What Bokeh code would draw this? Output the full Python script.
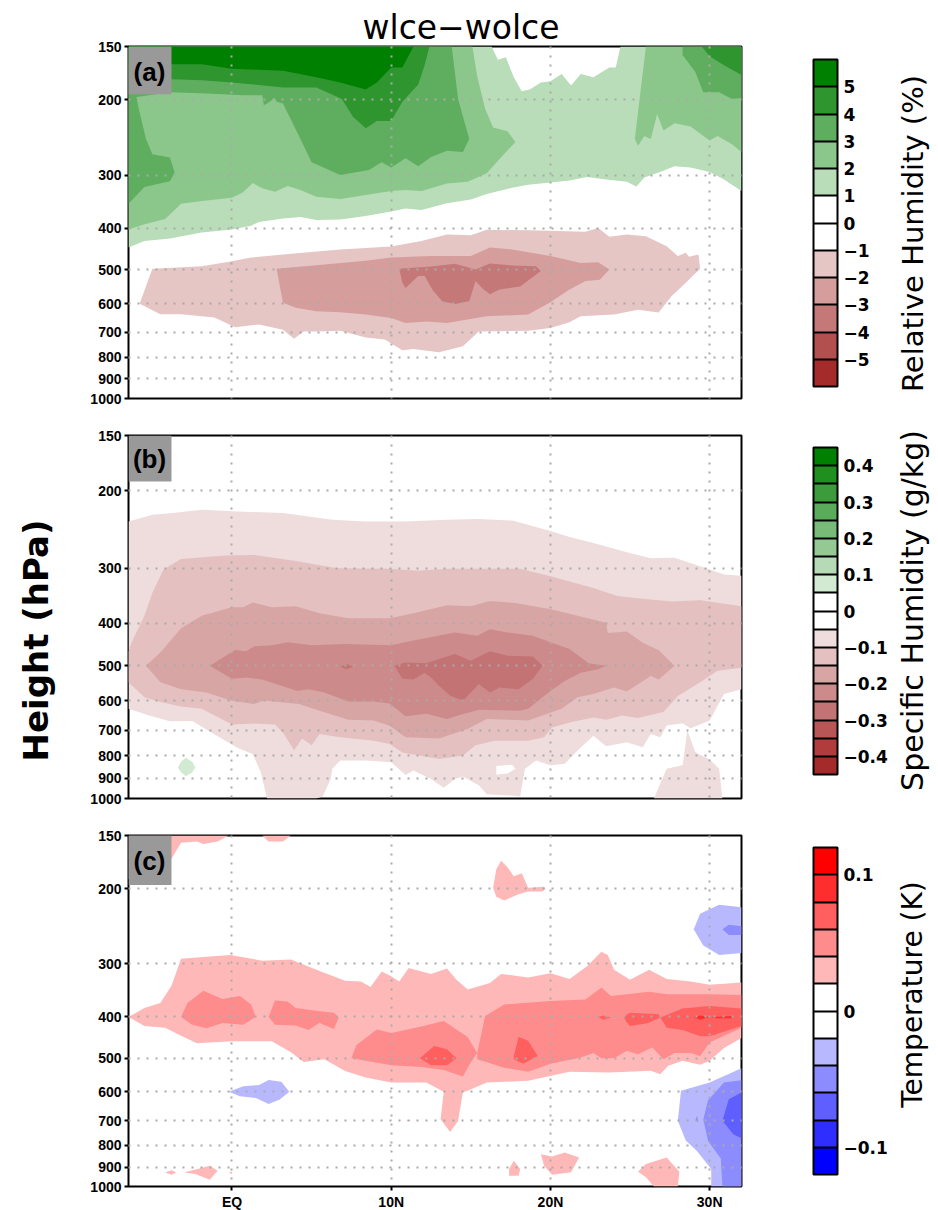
import math
from bokeh.core.properties import value
from bokeh.embed import file_html
from bokeh.layouts import column, row
from bokeh.models import BoxAnnotation, ColorBar, FixedTicker, Label, LinearColorMapper, Range1d
from bokeh.plotting import figure
from bokeh.resources import INLINE

P_TICKS = [150, 200, 300, 400, 500, 600, 700, 800, 900, 1000]
P_GRID = [200, 300, 400, 500, 600, 700, 800, 900]
LAT_TICKS = [0, 10, 20, 30]
LAT_LABELS = {0: "EQ", 10: "10N", 20: "20N", 30: "30N"}

# ---- (a) relative humidity difference, contour outlines as (lat, hPa)
RH_GT1 = [[(-6.5,443),(-5.5,428),(-3.9,422),(-1.9,409),(0,402),(1.2,394),(1.7,386),(3.2,379),(4.3,376),(5.3,382),(6.8,381),(8.4,374),(10,365),(10.9,359),(11.9,362),(13.5,349),(15,342),(16,332),(17.6,321),(18.6,316),(20,312),(21.2,309),(22.3,303),(23.5,307),(24.8,311),(25.4,319),(25.9,304),(26.8,296),(27.8,286),(28.8,288),(30,295),(30.9,307),(32,327),(32,150),(24.4,150),(24.1,168),(23.7,168),(22.7,177),(21.9,174),(21.3,185),(20.7,174),(20,181),(19.4,182),(18.7,189),(18.2,191),(17.7,177),(17.2,159),(16.7,161),(16.3,150),(-6.5,150)]]
RH_GT2 = [[(-6.5,402),(-5.5,391),(-4.2,380),(-3.2,350),(-1.9,345),(0,339),(0.7,329),(1.3,313),(1.9,322),(2.7,328),(3.5,318),(4.3,325),(5.3,337),(6.8,341),(8.4,334),(10,327),(10.9,325),(11.9,327),(13.5,314),(14.8,311),(16,297),(16.8,275),(17.8,251),(17.3,237),(16.4,232),(15.9,210),(15.4,176),(15.1,150),(-6.5,150)],
          [(26,150),(25.6,199),(25.3,247),(25.5,256),(25.9,243),(26.3,247),(26.7,216),(27.1,236),(27.8,227),(28.8,231),(30,249),(30.5,243),(31.4,254),(32,265),(32,150)]]
RH_GT3 = [[(-6.5,150),(13.8,150),(14.2,199),(14.9,247),(14.5,265),(13.5,263),(12.5,272),(11.7,286),(10.9,274),(10,288),(9.4,280),(8.6,292),(6.8,300),(5,280),(4.3,247),(3.2,204),(2.8,202),(2.7,198),(2.2,204),(2,206),(1.9,195),(0.7,195),(-1.9,193),(-3.9,192),(-6,197),(-5.8,214),(-5.4,247),(-5,268),(-3.9,273),(-3.6,296),(-3.9,310),(-5.5,320),(-6.5,350)],
          [(28.3,150),(28.3,157),(29.1,172),(29.6,192),(30.6,192),(31.4,199),(32,198),(32,150)]]
RH_GT4 = [[(-6.5,150),(12.4,150),(12.1,166),(11.7,184),(10.7,202),(10,224),(9.1,224),(8.4,233),(7.6,219),(6.9,199),(5.3,187),(3.2,187),(0,182),(-1.9,180),(-3.8,179),(-6.5,177)],
          [(29.5,150),(30,158),(30.9,166),(32,175),(32,150)]]
RH_GT5 = [[(-6.5,150),(11.4,150),(10.7,168),(10,168),(9.1,182),(8.4,189),(6.8,182),(5.3,177),(3.2,171),(0,169),(-1.9,165),(-3.8,165),(-6.5,165)]]
RH_LT1 = [[(-5.8,600),(-5.4,546),(-5,497),(-1.9,490),(0,477),(1.2,468),(3.2,460),(6.8,448),(10,441),(11.9,428),(13.5,413),(15,415),(16,403),(18.6,404),(22.2,407),(23,399),(23.7,418),(24.8,413),(26,417),(27.3,440),(28,464),(28.5,456),(28.7,466),(29.3,460),(29.4,497),(28.5,536),(27.6,576),(26.8,629),(25.5,620),(24,636),(21.9,642),(21.2,663),(20,684),(18.6,694),(15.5,697),(14.5,755),(13,779),(11.4,766),(10.7,771),(9.6,728),(8.4,720),(6.8,694),(5.3,697),(4.5,697),(3.9,725),(3.2,690),(1.7,671),(0.2,681),(-1.1,646),(-3.2,635),(-4.5,635)]]
RH_LT2 = [[(2.8,497),(5.8,486),(8.4,476),(10,468),(12.5,464),(15,464),(16.2,443),(17.6,448),(20,464),(21.9,482),(23,480),(23.7,499),(23.1,527),(22.2,531),(21.2,556),(20,595),(18.6,636),(16,642),(13.5,666),(12.2,660),(10.9,666),(10,648),(8.4,636),(6.8,628),(5.3,625),(4,613),(3.2,597)]]
RH_LT3 = [[(10.5,497),(12.5,491),(14,484),(15.3,499),(16.2,483),(17.6,488),(19.1,490),(19.4,503),(18.1,547),(16.8,556),(16.2,570),(15.7,551),(15.3,531),(14.9,592),(14,601),(13.2,592),(12.6,557),(12.1,517),(11.7,517),(10.9,551),(10.7,536)]]

# ---- (b) specific humidity difference
SH_GT05 = [[(-3.4,850),(-3.2,825),(-2.9,808),(-2.5,825),(-2.3,850),(-2.5,872),(-2.9,890),(-3.2,872)]]
SH_LT05 = [[(-6.5,235),(-5,227),(-3.7,225),(-1.9,221),(0,223),(3.2,225),(6.3,233),(8.4,235),(10.9,235),(13.5,233),(15.5,232),(17.6,234),(20,247),(21.2,255),(22.7,263),(24.8,276),(26.3,285),(27.8,284),(30,302),(30.9,310),(32,312),(32,565),(30.9,579),(30,665),(28.8,693),(28.3,675),(27.3,683),(26.9,726),(26.3,714),(25.8,765),(24.8,745),(23.5,761),(22.7,720),(21.7,778),(20.9,834),(20,841),(19.1,820),(18.4,856),(18.1,990),(17.6,985),(16,978),(15.5,933),(14.5,891),(14,903),(13.3,945),(12.5,903),(11.4,864),(10.9,884),(10,827),(8.4,820),(6.8,820),(6.3,856),(6.2,903),(5.7,990),(5.3,1000),(2.2,1000),(1.8,870),(1.3,792),(0.4,769),(-0.9,722),(-2.5,667),(-3.9,668),(-5.2,648),(-6.5,626)],
           [(26.5,1000),(27.3,856),(28.3,841),(28.6,701),(29.1,785),(30,816),(30.6,856),(30.8,1000)]]
SH_POCKET = [[(16.6,844),(17.6,838),(17.8,856),(17.3,878),(16.6,883)]]
SH_LT10 = [[(-4.3,302),(-5,341),(-5.5,385),(-6.3,442),(-6.5,465),(-6.5,545),(-5.5,589),(-4.5,604),(-3.2,618),(-1.9,626),(0,679),(1.4,676),(2.7,679),(3.2,708),(3.9,777),(4.4,731),(5,757),(5.5,714),(6.8,726),(8.9,739),(9.9,752),(10.7,786),(13,814),(14.5,799),(15.3,757),(16.5,739),(18.6,739),(19.6,726),(20.1,690),(21.2,672),(22.7,655),(23.5,663),(24.5,648),(25.5,657),(27.1,636),(28,585),(29.4,545),(30.5,513),(32,505),(32,366),(29.4,355),(27.6,357),(25.8,352),(24.2,347),(22.7,333),(20,313),(18.1,301),(13.5,301),(11.7,304),(9.9,301),(6.6,300),(4,289),(1.4,280),(-0.4,281),(-3.2,286)]]
SH_LT15 = [[(-5.4,500),(-4.5,466),(-3.2,411),(-1.9,385),(0,368),(0.7,368),(1.3,359),(2.5,368),(4,366),(5.5,380),(7.3,390),(9.9,390),(11.4,380),(13.5,364),(15,366),(16.2,356),(17.8,360),(20,372),(21.7,385),(23.5,399),(23.6,421),(24.8,418),(25.8,443),(26.8,461),(27.8,500),(26.8,537),(26.3,527),(24.8,572),(24,560),(22.7,579),(21.7,589),(20.7,626),(18.6,665),(16,660),(14.8,695),(13,731),(10.9,726),(9.9,684),(8.9,665),(7.3,663),(5.8,637),(4.2,610),(2,599),(1.4,610),(-0.1,599),(-1.6,575),(-3.2,565),(-4.5,545)]]
SH_LT20 = [[(-1.4,500),(0.2,460),(0.9,463),(1.4,451),(2.5,449),(3.5,442),(5,449),(7.1,446),(10,449),(11.4,438),(14,420),(15.4,427),(16.2,413),(17.3,420),(18.9,427),(20,442),(21.2,458),(22.4,493),(23.5,500),(23,509),(21.9,518),(20.9,541),(20,570),(18.6,626),(18.1,632),(15.5,629),(14.2,648),(13.5,660),(12.2,642),(10.9,651),(9.9,609),(8.9,602),(7.3,602),(5.8,575),(4.8,565),(4.1,570),(1.9,537),(0.9,531),(0,535)]]
SH_LT25 = [[(10.2,500),(10.9,491),(12.2,493),(14,470),(15,487),(16.2,463),(17.3,474),(18.9,476),(19.5,500),(18.9,535),(18,565),(16.8,560),(16.2,575),(15.5,550),(15,575),(14.5,599),(13.7,584),(13,555),(12.5,531),(12.1,518),(11.4,537),(10.7,535)],
           [(6.8,502),(7.2,495),(7.6,502),(7.2,509)]]

# ---- (c) temperature difference
T_GT02 = [[(-6.5,400),(-5.5,381),(-4.5,371),(-3.8,338),(-3.2,292),(-1.6,289),(-0.1,286),(1.9,295),(3.7,293),(5.3,310),(7.1,329),(8.1,330),(8.7,340),(9.4,313),(10,321),(10.5,330),(11.1,307),(12.5,317),(13.5,308),(14.1,327),(14.8,345),(16.2,333),(16.9,317),(18.6,323),(20,316),(21.2,326),(22.3,304),(23.2,281),(23.6,286),(24,310),(25,327),(26.2,310),(27.3,326),(28.8,330),(30,336),(32,332),(32,448),(30.9,473),(30,507),(29.4,518),(28.3,507),(27.4,521),(26.9,545),(26.3,535),(23.7,540),(21.2,538),(18.6,565),(16,570),(14.8,596),(14.5,601),(14.2,702),(13.7,745),(13.1,695),(13.3,599),(12.2,570),(10,570),(8.4,555),(7.1,536),(5.8,503),(4.5,510),(3.7,484),(2.5,456),(0,456),(-2.2,461),(-3.2,443),(-4.2,424),(-5.5,420)],
          [(-6.5,150),(-0.2,150),(-0.9,155),(-1.8,157),(-2.2,155),(-3.2,156),(-3.8,170),(-6.5,190)],
          [(1.9,150),(2.3,155),(3.2,155),(3.7,150)],
          [(16.4,199),(16.6,180),(16.9,172),(17.3,178),(17.7,187),(18.2,184),(18.6,199),(19.6,198),(19.7,200),(19.5,203),(18.6,203),(18,206),(17.1,213),(16.6,209)],
          [(19.4,840),(20.1,850),(20.9,832),(21.8,855),(21.3,926),(20.1,938),(19.6,894)],
          [(17.4,910),(17.7,870),(18.1,910),(18,943),(17.4,943)],
          [(25.5,923),(26,886),(27.3,855),(28.1,923),(28,1000),(26.5,1000),(26,951)],
          [(-3,927),(-1.4,894),(-0.9,918),(-1.4,964),(-2.3,935)],
          [(-4.2,927),(-3.8,916),(-3.5,927),(-3.8,938)],
          [(-0.2,927),(0,922),(0,935)],
          [(10.9,700),(11.2,698),(11.2,702)]]
T_GT04 = [[(-3.2,400),(-2.8,371),(-1.8,347),(-0.6,363),(0.5,357),(1.2,374),(1.5,400),(0.7,417),(-0.6,413),(-1.6,425),(-2.5,417)],
          [(2.3,400),(2.7,366),(3.5,368),(4,381),(5.5,388),(6.4,391),(6.7,401),(6.4,427),(5.5,413),(4.8,429),(4,419),(2.7,417)],
          [(7.5,500),(7.8,466),(9.1,428),(10,436),(11.9,421),(13.3,409),(14.8,446),(15.4,486),(15,511),(14.5,552),(13.3,533),(11.9,524),(10,519),(8.4,507)],
          [(15.4,486),(15.9,398),(17.1,374),(20,367),(22.2,364),(23.2,341),(23.8,357),(26.2,349),(27.3,354),(30,354),(32,355),(32,424),(30,459),(29.4,494),(28.8,486),(27.8,486),(27.1,503),(26.4,472),(25.5,489),(24.8,480),(24,500),(23.2,500),(22.7,486),(21.9,498),(20,515),(18.6,538),(17.1,526),(15.4,503)]]
T_GT06 = [[(11.8,500),(12.7,468),(13.5,476),(14.1,500),(13.5,519),(12.5,519)],
          [(17.7,494),(18,445),(18.6,455),(19.2,494),(18.3,515),(17.7,503)],
          [(23,400),(23.3,397),(23.8,401),(23.3,406)],
          [(24.6,400),(25,391),(26.8,394),(26.9,401),(26.1,414),(25,420),(24.8,412)],
          [(26.9,401),(28.3,382),(30,377),(32,382),(32,420),(30,444),(29.4,444),(28.3,429),(27.3,424)]]
T_GT08 = [[(29,400),(29.4,397),(30,400),(29.4,406)],
          [(30.1,400),(31.4,398),(31.4,403),(30.4,403)]]
T_LT02 = [[(-0.2,599),(0.7,582),(1.7,578),(2.3,562),(3.1,568),(3.6,599),(3,625),(2.3,640),(1.5,620),(0.5,614)],
          [(29,249),(29.4,229),(30.6,218),(32,221),(32,283),(30.6,286),(29.6,272)],
          [(28,701),(28.2,596),(30,570),(32,528),(32,1000),(30.1,1000),(30.1,910),(29.2,825),(28.5,780)]]
T_LT04 = [[(30.8,249),(31.2,243),(32,245),(32,257),(31.2,257)],
          [(29.6,696),(29.9,627),(30.9,570),(32,563),(32,1000),(30.8,1000),(30.7,860),(29.9,782)],
          [(29.1,700),(29.2,683),(29.3,706)]]
T_LT06 = [[(30.8,701),(31.2,624),(32,602),(32,770),(31.5,755)]]

RH_PALETTE = ["#a52a2a","#b25050","#c47878","#d69d9d","#e6c5c5","#ffffff","#ffffff","#b9dcb9","#8bc68b","#5fae5f","#2f962f","#008000"]
SH_PALETTE = ["#a52a2a","#b03c3c","#b85555","#c37373","#cc8a8a","#d8a5a5","#e4c0c0","#efdcdc","#ffffff","#ffffff","#d2e9d2","#b5dab5","#94c994","#78ba78","#5aac5a","#3c9c3c","#1f8f1f","#008000"]
T_PALETTE = ["#0000ff","#2e2eff","#5f5fff","#8c8cff","#b8b8ff","#ffffff","#ffffff","#ffb8b8","#ff8c8c","#ff5f5f","#ff2e2e","#ff0000"]
RH_LABELS = {-5:"−5",-4:"−4",-3:"−3",-2:"−2",-1:"−1",0:"0",1:"1",2:"2",3:"3",4:"4",5:"5"}
SH_LABELS = {-0.4:"−0.4",-0.3:"−0.3",-0.2:"−0.2",-0.1:"−0.1",0:"0",0.1:"0.1",0.2:"0.2",0.3:"0.3",0.4:"0.4"}
SH_MINOR = [-0.35,-0.25,-0.15,-0.05,0.05,0.15,0.25,0.35]
T_LABELS = {-0.1:"−0.1",0:"0",0.1:"0.1"}
T_MINOR = [-0.08,-0.06,-0.04,-0.02,0.02,0.04,0.06,0.08]

LATMIN, LATMAX = -6.5, 32
FONT_TICK = "Liberation Sans"
FONT = "DejaVu Sans"


def fill(p, polys, color):
    p.patches([[v[0] for v in q] for q in polys], [[v[1] for v in q] for q in polys],
              fill_color=color, line_color=None)


def panel(fh, top, bottom, show_x):
    p = figure(width=830, height=fh + top + bottom, frame_width=613, frame_height=fh,
               min_border_left=68, min_border_right=149, min_border_top=top, min_border_bottom=bottom,
               y_axis_type="log", x_range=Range1d(LATMIN, LATMAX), y_range=Range1d(1000, 150),
               toolbar_location=None, output_backend="svg", background_fill_color="white",
               border_fill_color=None)
    p.outline_line_color = "black"
    p.outline_line_width = 2
    p.outline_line_alpha = 1
    yax = p.yaxis[0]
    yax.ticker = FixedTicker(ticks=P_TICKS)
    yax.major_label_overrides = {v: str(v) for v in P_TICKS}
    yax.axis_line_color = None
    yax.minor_tick_line_color = None
    yax.major_tick_line_color = "black"
    yax.major_tick_line_width = 2
    yax.major_tick_out = 4
    yax.major_tick_in = 0
    yax.major_label_text_font = FONT_TICK
    yax.major_label_text_font_style = "bold"
    yax.major_label_text_font_size = "14px"
    yax.major_label_text_color = "black"
    yax.major_label_standoff = 3
    xax = p.xaxis[0]
    xax.ticker = FixedTicker(ticks=LAT_TICKS)
    xax.axis_line_color = None
    xax.minor_tick_line_color = None
    if show_x:
        xax.major_label_overrides = dict(LAT_LABELS)
        xax.major_tick_line_color = "black"
        xax.major_tick_line_width = 2
        xax.major_tick_out = 4
        xax.major_tick_in = 0
        xax.major_label_text_font = FONT_TICK
        xax.major_label_text_font_style = "bold"
        xax.major_label_text_font_size = "14px"
        xax.major_label_text_color = "black"
        xax.major_label_standoff = 3
    else:
        xax.visible = False
    p.xgrid.ticker = FixedTicker(ticks=LAT_TICKS)
    p.ygrid.ticker = FixedTicker(ticks=P_GRID)
    for g in (p.xgrid[0], p.ygrid[0]):
        g.grid_line_color = "#aaaaaa"
        g.grid_line_width = 2
        g.grid_line_dash = "2 7"
        g.level = "overlay"
    return p


def tag(p, text, box_bottom_p, x, y):
    p.add_layout(BoxAnnotation(left=LATMIN, right=-3.8, top=150, bottom=box_bottom_p,
                               fill_color="#999999", fill_alpha=1, line_color=None, level="overlay"))
    p.add_layout(Label(x=x, y=y, x_units="screen", y_units="screen", text=text, text_align="center",
                       text_baseline="middle", text_font=FONT_TICK, text_font_style="bold",
                       text_font_size="26px", text_color="black", level="overlay"))


def bar(p, palette, low, high, labels, minor, y):
    cm = LinearColorMapper(palette=palette, low=low, high=high)
    cb = ColorBar(color_mapper=cm, ticker=FixedTicker(ticks=list(labels), minor_ticks=minor),
                  major_label_overrides=labels, location=(685, y), width=24, height=327,
                  padding=0, margin=0, bar_line_color="black", bar_line_width=2,
                  major_tick_line_color="black", major_tick_line_width=2, major_tick_in=24, major_tick_out=0,
                  minor_tick_line_color="black", minor_tick_line_width=2, minor_tick_in=24, minor_tick_out=0,
                  major_label_text_font=FONT, major_label_text_font_style="bold",
                  major_label_text_font_size="17px", major_label_text_color="black", label_standoff=6,
                  background_fill_color=None, border_line_color=None, title=None)
    p.add_layout(cb)


def text_strip(w, h, x0, y0):
    """A bare figure whose range is the strip's own page pixels, only for outer titles."""
    p = figure(width=w, height=h, x_range=Range1d(x0, x0 + w), y_range=Range1d(y0 + h, y0),
               toolbar_location=None, output_backend="svg", x_axis_location=None, y_axis_location=None,
               min_border_left=0, min_border_right=0, min_border_top=0, min_border_bottom=0,
               border_fill_color=None, background_fill_color=None)
    p.outline_line_color = None
    p.grid.visible = False
    return p


def put(p, x, y, text, size, angle=0.0, bold=False):
    p.text(x=[x], y=[y], text=[text], angle=angle, text_align="center", text_baseline="middle",
           text_font=value(FONT), text_font_size=value(size), text_color="black",
           text_font_style="bold" if bold else "normal")


a = panel(352, 46, 18, False)
a.title.text = "wlce−wolce"
a.title.align = "left"
a.title.offset = 234
a.title.standoff = 0
a.title.text_font = FONT
a.title.text_font_size = "33px"
a.title.text_font_style = "normal"
a.title.text_color = "black"
for polys, col in [(RH_GT1, RH_PALETTE[7]), (RH_GT2, RH_PALETTE[8]), (RH_GT3, RH_PALETTE[9]),
                   (RH_GT4, RH_PALETTE[10]), (RH_GT5, RH_PALETTE[11]),
                   (RH_LT1, RH_PALETTE[4]), (RH_LT2, RH_PALETTE[3]), (RH_LT3, RH_PALETTE[2])]:
    fill(a, polys, col)
tag(a, "(a)", 194, 21, 327)
bar(a, RH_PALETTE, -6, 6, RH_LABELS, [], 12)

b = panel(363, 19, 18, False)
for polys, col in [(SH_GT05, SH_PALETTE[10]), (SH_LT05, SH_PALETTE[7]), (SH_POCKET, "#ffffff"),
                   (SH_LT10, SH_PALETTE[6]), (SH_LT15, SH_PALETTE[5]), (SH_LT20, SH_PALETTE[4]),
                   (SH_LT25, SH_PALETTE[3])]:
    fill(b, polys, col)
tag(b, "(b)", 190.7, 21, 340)
bar(b, SH_PALETTE, -0.45, 0.45, SH_LABELS, SH_MINOR, 24)

c = panel(351, 19, 22, True)
for polys, col in [(T_GT02, T_PALETTE[7]), (T_GT04, T_PALETTE[8]), (T_GT06, T_PALETTE[9]), (T_GT08, T_PALETTE[10]),
                   (T_LT02, T_PALETTE[4]), (T_LT04, T_PALETTE[3]), (T_LT06, T_PALETTE[2])]:
    fill(c, polys, col)
tag(c, "(c)", 196, 21, 326)
bar(c, T_PALETTE, -0.12, 0.12, T_LABELS, T_MINOR, 12)

left_strip = text_strip(60, 1202, 0, 0)
put(left_strip, 35, 640, "Height (hPa)", "34px", math.pi / 2, True)
right_strip = text_strip(48, 1202, 890, 0)
put(right_strip, 912, 233, "Relative Humidity (%)", "29px", math.pi / 2)
put(right_strip, 912, 610, "Specific Humidity (g/kg)", "30px", math.pi / 2)
put(right_strip, 912, 994, "Temperature (K)", "28px", math.pi / 2)

page = row(left_strip, column(a, b, c, spacing=0), right_strip, spacing=0)
open("out.html", "w").write(file_html(page, INLINE))
